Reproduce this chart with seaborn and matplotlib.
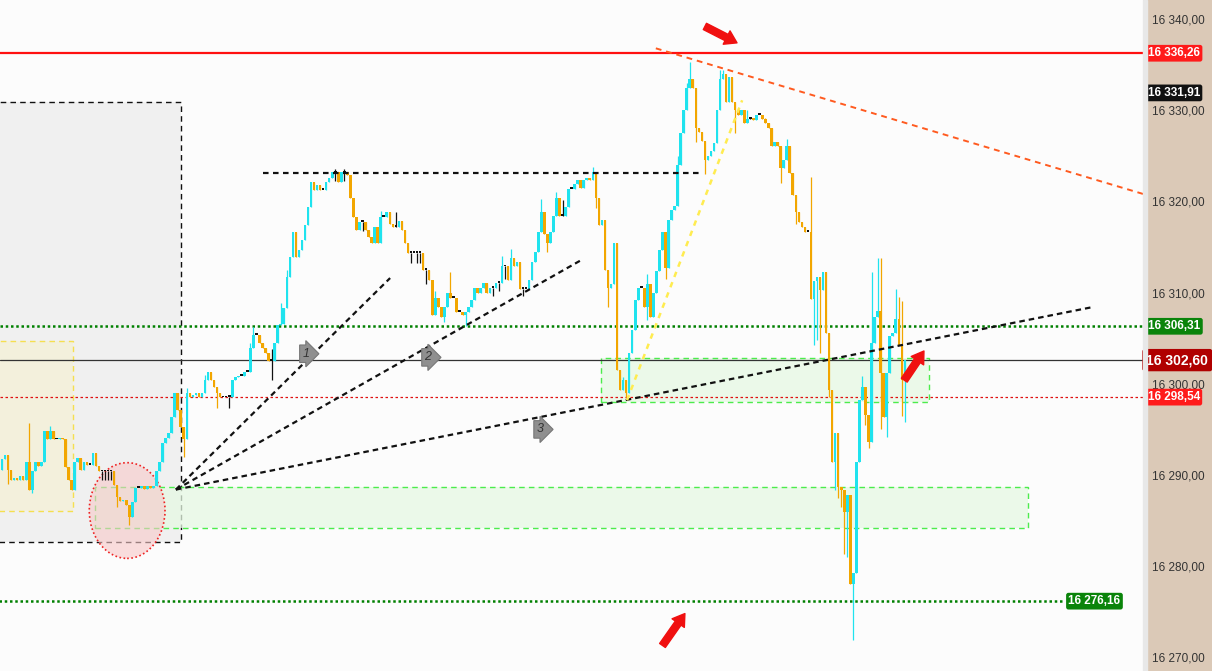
import matplotlib
matplotlib.use("Agg")
import matplotlib.pyplot as plt
import matplotlib.transforms as mtransforms
from matplotlib.patches import Rectangle, Ellipse
from matplotlib.ticker import FixedLocator, FuncFormatter
import numpy as np
import seaborn as sns

# candle closes, one per bar (open = previous close)
first_open = 16290.6
closes = [
    16291.7, 16292.2, 16290.6, 16289.5, 16289.7, 16289.5, 16289.9, 16289.4, 16291.4, 16288.4,
    16290.4, 16291.4, 16291.0, 16291.4, 16294.8, 16293.9, 16294.8, 16293.9, 16293.9, 16294.1,
    16293.9, 16290.9, 16289.5, 16288.4, 16291.4, 16291.9, 16290.6, 16291.4, 16291.1, 16291.1,
    16292.4, 16291.0, 16290.4, 16290.4, 16290.4, 16290.4, 16290.4, 16288.9, 16287.6, 16287.1,
    16287.3, 16286.7, 16285.4, 16287.0, 16288.6, 16288.6, 16288.8, 16288.5, 16288.8, 16288.6,
    16288.8, 16290.4, 16291.4, 16293.5, 16294.1, 16294.6, 16296.4, 16299.0, 16297.1, 16295.3,
    16293.9, 16299.0, 16298.6, 16298.8, 16299.0, 16298.6, 16299.0, 16300.4, 16301.3, 16300.4,
    16299.6, 16299.0, 16298.5, 16298.5, 16298.6, 16298.6, 16300.4, 16300.7, 16300.9, 16300.9,
    16301.3, 16301.3, 16303.9, 16305.4, 16305.4, 16304.5, 16303.9, 16303.4, 16302.5, 16302.5,
    16304.5, 16306.4, 16306.6, 16308.3, 16311.7, 16313.9, 16316.7, 16313.9, 16314.7, 16315.8,
    16317.4, 16319.4, 16322.1, 16321.3, 16321.8, 16321.3, 16321.3, 16322.1, 16322.6, 16323.2,
    16323.2, 16322.1, 16323.2, 16323.2, 16322.9, 16320.4, 16318.3, 16316.9, 16317.8, 16317.8,
    16316.9, 16316.1, 16315.5, 16317.2, 16315.5, 16318.3, 16318.3, 16318.8, 16317.5, 16317.2,
    16317.2, 16317.9, 16316.9, 16315.5, 16314.4, 16314.4, 16314.4, 16314.4, 16314.4, 16312.5,
    16312.5, 16311.4, 16307.5, 16309.4, 16308.4, 16307.3, 16308.4, 16310.0, 16309.4, 16309.4,
    16307.9, 16307.9, 16307.5, 16307.9, 16308.4, 16309.2, 16310.5, 16310.0, 16310.5, 16311.1,
    16310.0, 16310.5, 16310.5, 16311.1, 16311.1, 16312.9, 16312.9, 16311.4, 16313.8, 16312.9,
    16313.4, 16310.4, 16310.4, 16310.4, 16311.4, 16313.4, 16314.5, 16316.7, 16318.9, 16316.4,
    16315.5, 16316.6, 16318.4, 16320.4, 16318.4, 16318.4, 16319.4, 16321.4, 16321.4, 16321.9,
    16322.4, 16321.5, 16322.4, 16322.6, 16322.4, 16323.2, 16320.4, 16317.4, 16318.0, 16312.5,
    16310.5, 16311.0, 16315.5, 16301.5, 16299.3, 16300.4, 16299.0, 16303.4, 16305.9, 16309.2,
    16310.5, 16310.5, 16308.4, 16310.9, 16307.3, 16310.0, 16312.4, 16314.7, 16316.7, 16312.7,
    16318.0, 16319.1, 16319.5, 16324.0, 16327.5, 16330.0, 16332.5, 16333.4, 16332.5, 16328.1,
    16327.6, 16326.6, 16324.5, 16325.0, 16325.5, 16326.4, 16330.0, 16333.4, 16334.0, 16330.9,
    16333.6, 16330.9, 16330.0, 16329.5, 16330.0, 16328.6, 16329.1, 16329.2, 16328.9, 16329.5,
    16329.5, 16329.0, 16328.6, 16328.1, 16326.1, 16326.5, 16326.1, 16323.7, 16324.6, 16326.1,
    16323.1, 16320.7, 16318.8, 16317.7, 16317.2, 16316.7, 16316.7, 16309.3, 16311.3, 16311.7,
    16310.3, 16312.3, 16305.6, 16299.3, 16291.4, 16294.6, 16288.7, 16288.4, 16285.9, 16287.8,
    16278.0, 16279.3, 16291.4, 16298.2, 16299.6, 16296.6, 16293.6, 16304.5, 16307.3, 16308.0,
    16301.2, 16296.4, 16301.2, 16305.2, 16305.6, 16307.1, 16304.3, 16300.4, 16302.6,
]

# wicks (bar index -> price)
wick_high = {
    9: 16295.7, 16: 16295.4, 61: 16299.5, 67: 16301.0, 82: 16304.5, 83: 16306.2,
    89: 16303.8, 92: 16308.9, 94: 16312.5, 110: 16323.6, 113: 16323.6, 125: 16319.0,
    130: 16318.8, 143: 16310.2, 148: 16312.3, 165: 16314.0, 168: 16314.8, 178: 16320.3,
    183: 16321.0, 185: 16320.2, 195: 16323.8, 205: 16300.8, 213: 16312.0, 223: 16325.0,
    226: 16333.0, 227: 16335.3, 237: 16334.4, 238: 16334.4, 246: 16330.0, 252: 16329.2,
    259: 16326.8, 261: 16322.5, 267: 16322.7, 272: 16312.3, 284: 16300.9, 287: 16312.3,
    289: 16313.8, 290: 16313.8, 295: 16310.4, 296: 16309.5, 297: 16309.1,
}
wick_low = {
    2: 16289.0, 10: 16288.0, 33: 16289.4, 34: 16289.4, 35: 16289.4, 36: 16289.4,
    38: 16286.5, 42: 16284.5, 60: 16292.0, 71: 16297.4, 75: 16297.4, 89: 16300.4,
    110: 16322.3, 113: 16322.3, 119: 16316.8, 135: 16313.3, 137: 16313.3, 138: 16313.3,
    140: 16311.0, 146: 16306.8, 153: 16306.3, 162: 16309.6, 164: 16310.2, 166: 16311.5,
    172: 16309.6, 180: 16314.5, 186: 16318.5, 196: 16319.3, 200: 16308.4, 206: 16298.5,
    213: 16307.0, 219: 16311.5, 229: 16326.5, 232: 16323.0, 242: 16327.5, 257: 16322.0,
    262: 16317.5, 268: 16304.3, 269: 16304.8, 270: 16303.4, 273: 16298.6, 275: 16288.4,
    276: 16287.5, 277: 16286.5, 278: 16281.3, 279: 16281.0, 281: 16271.9, 282: 16290.5,
    285: 16295.5, 286: 16293.0, 290: 16295.0, 292: 16294.2, 297: 16296.5, 298: 16295.8,
}

# price levels
resistance = 16336.26
session_high = 16331.91
pivot = 16306.31
last_price = 16302.60
support = 16298.54
low_level = 16276.16

# drawn zones: (bar start, bar end, price low, price high)
gray_box = (-5, 59.1, 16282.7, 16330.9)
yellow_box = (-5, 23.4, 16286.1, 16304.7)
green_zone_low = (30.7, 338.6, 16284.2, 16288.7)
green_zone_mid = (197.7, 305.9, 16298.0, 16302.85)

# trend lines: (bar, price) pairs
top_line = [(86.1, 16323.1), (230.4, 16323.1)]
fan_origin = (57.4, 16288.4)
fan_ends = [(128.1, 16311.6), (190.8, 16313.5), (359.7, 16308.4)]
down_trend = [(215.8, 16336.8), (378.9, 16320.6)]
yellow_trend = [(206.3, 16298.2), (244.3, 16331.1)]
tags = [("1", 100.3, 16303.3), ("2", 140.6, 16302.9), ("3", 177.6, 16295.0)]

sns.set_style("white")
plt.rcParams["font.family"] = ["Liberation Sans", "DejaVu Sans"]

W, H = 1212, 671
fig = plt.figure(figsize=(W / 100, H / 100), dpi=100)
fig.patch.set_facecolor("#dbc9b7")
ax = fig.add_axes([0, 0, 1143 / W, 1])
ax.set_facecolor("#fcfcfc")
fig.patches.append(Rectangle((1143 / W, 0), 4 / W, 1, transform=fig.transFigure,
                             color="#e8e8e8", zorder=0))

# zones
def zone(box, fc, ec, z, ls=(0, (4, 3)), lw=1.0, alpha=1.0):
    x0, x1, y0, y1 = box
    ax.add_patch(Rectangle((x0, y0), x1 - x0, y1 - y0, facecolor=fc, alpha=alpha,
                           edgecolor="none", zorder=z))
    ax.add_patch(Rectangle((x0, y0), x1 - x0, y1 - y0, facecolor="none",
                           edgecolor=ec, lw=lw, ls=ls, zorder=z + 0.05))

zone(gray_box, "#f0f0f0", "#111111", 0.5)
zone(yellow_box, "#f3f0dc", "#f5df50", 0.6)
zone(green_zone_low, "#e6f9e3", "#4cec4c", 0.8, alpha=0.75)
zone(green_zone_mid, "#e6f9e3", "#4cec4c", 0.8, alpha=0.75)
ax.add_patch(Ellipse((41.3, 16286.1), 25, 10.5, facecolor="#f7c8c8", alpha=0.6,
                     edgecolor="none", zorder=0.9))
ax.add_patch(Ellipse((41.3, 16286.1), 25, 10.5, facecolor="none", edgecolor="#ee2222",
                     lw=1.2, ls=(0, (1, 1.5)), zorder=0.95))

# horizontal levels
ax.axhline(resistance, color="#ff1010", lw=1.6, zorder=2)
ax.axhline(pivot, color="#008000", lw=1.8, ls=(0, (1, 1.1)), zorder=2)
ax.axhline(last_price, color="#333333", lw=0.9, zorder=2)
ax.axhline(support, color="#e01010", lw=0.9, ls=(0, (2, 2)), zorder=2)
ax.plot([-5, 350.5], [low_level, low_level], color="#008000", lw=1.8,
        ls=(0, (1, 1.1)), zorder=2)

# candles
c = np.array(closes)
o = np.concatenate([[first_open], c[:-1]])
idx = np.arange(len(c))
hi = np.maximum(o, c)
lo = np.minimum(o, c)
for i, v in wick_high.items():
    hi[i] = max(hi[i], v)
for i, v in wick_low.items():
    lo[i] = min(lo[i], v)
cols = np.where(np.isclose(o, c), "#111111", np.where(c > o, "#1fe3ee", "#f2a600"))
ax.vlines(idx, lo, hi, colors=cols, lw=0.9, zorder=3)
body_h = np.where(np.isclose(o, c), 0.18, np.abs(c - o))
ax.bar(idx, body_h, bottom=np.minimum(o, c), width=0.85, color=cols, linewidth=0,
       zorder=3.1)

# trend lines
def tline(pts, color, lw, ls):
    xs = [p[0] for p in pts]
    ys = [p[1] for p in pts]
    sns.lineplot(x=xs, y=ys, ax=ax, color=color, lw=lw, linestyle=ls, sort=False,
                 estimator=None, zorder=4)

tline(top_line, "#111111", 1.6, (0, (2.5, 2.0)))
for end in fan_ends:
    tline([fan_origin, end], "#111111", 1.6, (0, (2.5, 1.8)))
tline(down_trend, "#ff5a1f", 1.4, (0, (3, 2.5)))
tline(yellow_trend, "#ffec50", 1.8, (0, (2.2, 2.2)))

for label, x, y in tags:
    ax.text(x, y, label, fontsize=9, color="#333333", style="italic", ha="center",
            va="center", zorder=5,
            bbox=dict(boxstyle="rarrow,pad=0.22", fc="#8f8f8f", ec="#777777", lw=0.8))

# red arrows
arrow_kw = dict(arrowstyle="simple,head_length=0.7,head_width=0.9,tail_width=0.42",
                color="#f01010", mutation_scale=12, shrinkA=0, shrinkB=0)
for tail, head in [((232.0, 16339.2), (242.6, 16337.4)),
                   ((218.0, 16271.3), (225.4, 16274.8)),
                   ((297.8, 16300.4), (304.3, 16303.6))]:
    ax.annotate("", xy=head, xytext=tail, arrowprops=arrow_kw, zorder=6)

ax.set_xlim(-0.66, 376.6)
ax.set_ylim(16268.5, 16342.1)
for s in ax.spines.values():
    s.set_visible(False)
ax.set_xticks([])
ax.yaxis.tick_right()
ax.yaxis.set_major_locator(FixedLocator(np.arange(16270, 16341, 10)))
ax.yaxis.set_major_formatter(FuncFormatter(
    lambda v, p: f"{v:,.2f}".replace(",", " ").replace(".", ",")))
ax.tick_params(axis="y", length=0, pad=6.5, labelsize=8.5, labelcolor="#333333")
ax.grid(False)

def fmt(v):
    return f"{v:,.2f}".replace(",", " ").replace(".", ",")

blend = mtransforms.blended_transform_factory(ax.transAxes, ax.transData)
for val, fc, x in [(resistance, "#ff1a1a", 1.0045),
                   (session_high, "#111111", 1.004),
                   (pivot, "#0a840a", 1.0045),
                   (support, "#ff1a1a", 1.004)]:
    ax.text(x, val, fmt(val), transform=blend, fontsize=8.5, color="white", weight="bold",
            ha="left", va="center", clip_on=False, zorder=7,
            bbox=dict(boxstyle="round,pad=0.2,rounding_size=0.2", fc=fc, ec="none"))
ax.text(1.003, last_price, fmt(last_price), transform=blend, fontsize=10, color="white",
        weight="bold", ha="left", va="center", clip_on=False, zorder=7,
        bbox=dict(boxstyle="round,pad=0.3,rounding_size=0.2", fc="#b00000", ec="none"))
ax.text(352.0, low_level, fmt(low_level), fontsize=8.5, color="white", weight="bold",
        ha="left", va="center", zorder=7,
        bbox=dict(boxstyle="round,pad=0.2,rounding_size=0.2", fc="#0a840a", ec="none"))

fig.savefig("out.png", dpi=100, facecolor=fig.get_facecolor())
